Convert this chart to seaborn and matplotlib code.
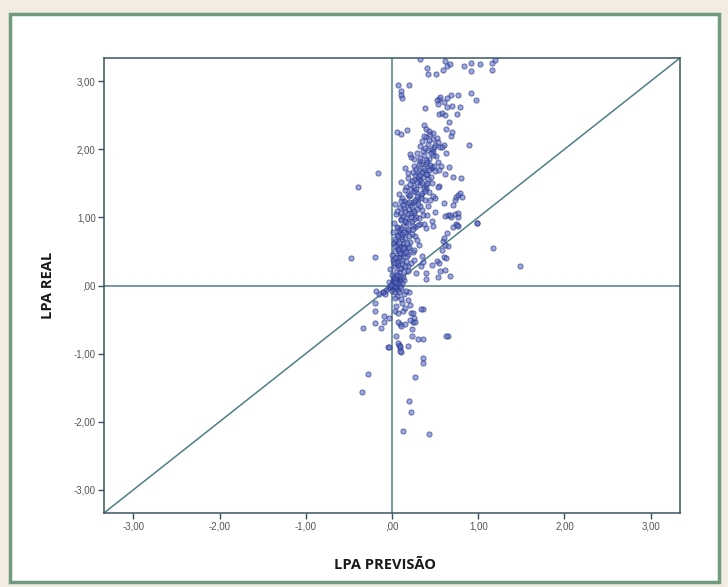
import numpy as np
import pandas as pd
import matplotlib.pyplot as plt
import matplotlib.patches as patches
from matplotlib.ticker import FuncFormatter
import seaborn as sns

# points, grouped by region, (LPA PREVISAO, LPA REAL)
origin_pts = [(-0.05, -0.04), (-0.02, -0.02), (0.0, 0.0), (0.01, 0.03), (0.02, -0.05), (0.03, 0.06),
              (0.04, 0.02), (0.05, -0.03), (0.06, 0.08), (0.08, 0.05), (0.10, 0.09), (0.12, 0.04),
              (-0.03, 0.05), (0.0, -0.08), (0.02, 0.10), (0.05, 0.12), (0.07, -0.06), (0.09, 0.0),
              (0.03, -0.10), (0.01, 0.07), (-0.07, -0.07), (-0.10, -0.09), (0.0, 0.02), (0.02, 0.01),
              (0.04, -0.01), (-0.01, 0.01), (0.06, 0.03), (0.14, 0.08), (0.11, -0.04), (0.08, -0.10)]

band_a = [(0.00, 0.15), (0.02, 0.12), (0.03, 0.28), (0.05, 0.20), (0.06, 0.35), (0.08, 0.18),
          (0.10, 0.25), (0.12, 0.32), (0.01, 0.38), (0.04, 0.10), (0.07, 0.30), (0.09, 0.14),
          (0.11, 0.40), (0.14, 0.22), (0.16, 0.36), (0.19, 0.28), (0.22, 0.33), (0.03, 0.05),
          (0.06, 0.16), (0.13, 0.12), (0.18, 0.21), (0.25, 0.38), (0.28, 0.18), (-0.02, 0.24),
          (0.05, 0.42)]

band_b = [(0.00, 0.45), (0.02, 0.62), (0.04, 0.51), (0.06, 0.74), (0.08, 0.42), (0.10, 0.58),
          (0.12, 0.69), (0.14, 0.47), (0.16, 0.78), (0.18, 0.55), (0.21, 0.64), (0.24, 0.49),
          (0.27, 0.72), (0.31, 0.60), (0.35, 0.44), (0.01, 0.79), (0.03, 0.41), (0.05, 0.66),
          (0.07, 0.53), (0.09, 0.77), (0.11, 0.48), (0.13, 0.61), (0.15, 0.70), (0.17, 0.43),
          (0.20, 0.57), (0.23, 0.75), (0.26, 0.52), (0.29, 0.67), (0.06, 0.59), (0.10, 0.71),
          (0.14, 0.56), (0.19, 0.46), (0.03, 0.68), (0.08, 0.50), (0.12, 0.76)]

band_c = [(0.02, 0.92), (0.05, 1.05), (0.07, 0.84), (0.09, 1.15), (0.11, 0.97), (0.13, 0.88),
          (0.15, 1.10), (0.17, 1.01), (0.19, 0.82), (0.21, 1.18), (0.23, 0.94), (0.25, 1.07),
          (0.27, 0.86), (0.29, 1.12), (0.31, 0.99), (0.33, 0.90), (0.36, 1.03), (0.39, 0.85),
          (0.42, 1.16), (0.46, 0.95), (0.50, 1.08), (0.04, 1.19), (0.08, 0.81), (0.12, 1.02),
          (0.16, 0.93), (0.20, 1.13), (0.24, 0.87), (0.28, 1.00), (0.32, 1.17), (0.37, 0.91),
          (0.06, 1.09), (0.10, 0.96), (0.14, 1.14), (0.18, 0.83), (0.22, 1.06), (0.26, 0.98),
          (0.30, 0.89), (0.35, 1.11), (0.41, 1.04), (0.47, 0.87)]

band_d = [(0.08, 1.35), (0.11, 1.52), (0.14, 1.24), (0.16, 1.45), (0.18, 1.58), (0.20, 1.31),
          (0.22, 1.41), (0.24, 1.22), (0.26, 1.55), (0.28, 1.37), (0.30, 1.27), (0.32, 1.48),
          (0.34, 1.33), (0.36, 1.59), (0.38, 1.25), (0.40, 1.43), (0.43, 1.38), (0.46, 1.50),
          (0.50, 1.29), (0.55, 1.46), (0.60, 1.21), (0.12, 1.28), (0.15, 1.40), (0.19, 1.34),
          (0.23, 1.53), (0.27, 1.23), (0.31, 1.57), (0.35, 1.36), (0.39, 1.47), (0.44, 1.26),
          (0.17, 1.21), (0.21, 1.49), (0.25, 1.39), (0.29, 1.30), (0.33, 1.54), (0.37, 1.42),
          (0.42, 1.56), (0.48, 1.32), (0.53, 1.44), (0.10, 1.24)]

band_e = [(0.15, 1.72), (0.19, 1.65), (0.22, 1.88), (0.25, 1.76), (0.27, 1.62), (0.29, 1.95),
          (0.31, 1.70), (0.33, 1.83), (0.35, 1.67), (0.37, 1.91), (0.39, 1.78), (0.41, 1.64),
          (0.43, 1.86), (0.45, 1.73), (0.47, 1.97), (0.50, 1.68), (0.53, 1.81), (0.57, 1.75),
          (0.62, 1.63), (0.21, 1.93), (0.26, 1.85), (0.30, 1.61), (0.34, 1.79), (0.38, 1.69),
          (0.42, 1.99), (0.46, 1.74), (0.51, 1.90), (0.24, 1.66), (0.28, 1.71), (0.32, 1.87),
          (0.36, 1.98), (0.40, 1.84), (0.44, 1.77), (0.48, 1.92), (0.55, 1.69)]

band_f = [(0.32, 2.05), (0.35, 2.12), (0.38, 2.02), (0.40, 2.18), (0.42, 2.08), (0.44, 2.22),
          (0.46, 2.01), (0.48, 2.15), (0.50, 2.06), (0.53, 2.10), (0.56, 2.03), (0.60, 2.07),
          (0.37, 2.20), (0.43, 2.13), (0.47, 2.24), (0.52, 2.17)]

core_extra = [(0.05, 0.33), (0.09, 0.47), (0.13, 0.55), (0.17, 0.63), (0.07, 0.72), (0.11, 0.84),
              (0.15, 0.95), (0.19, 1.05), (0.23, 1.15), (0.27, 1.26), (0.21, 1.33), (0.25, 1.44),
              (0.29, 1.52), (0.33, 1.62), (0.37, 1.73), (0.41, 1.82), (0.45, 1.94), (0.49, 2.03),
              (0.08, 0.62), (0.12, 0.38), (0.16, 0.49), (0.20, 0.73), (0.24, 0.83), (0.14, 0.79),
              (0.18, 0.92), (0.22, 1.00), (0.26, 1.10), (0.30, 1.20), (0.34, 1.29), (0.38, 1.39),
              (0.41, 1.51), (0.45, 1.60), (0.49, 1.76), (0.10, 1.07), (0.06, 0.86), (0.04, 0.58),
              (0.02, 0.33), (0.09, 0.26), (0.15, 0.28), (0.13, 1.18), (0.20, 1.22), (0.28, 1.41),
              (0.35, 1.50), (0.39, 1.64), (0.31, 1.78), (0.43, 1.70)]

upper_pts = [(0.33, 3.32), (0.62, 3.30), (0.64, 3.22), (0.67, 3.25), (0.41, 3.19), (0.42, 3.11),
             (0.51, 3.11), (0.59, 3.17), (0.83, 3.22), (0.92, 3.27), (0.92, 3.15), (1.02, 3.25),
             (1.16, 3.27), (1.16, 3.17), (1.19, 3.31), (0.07, 2.95), (0.20, 2.95), (0.11, 2.85),
             (0.11, 2.80), (0.12, 2.75), (0.53, 2.67), (0.54, 2.74), (0.56, 2.77), (0.69, 2.80),
             (0.77, 2.80), (0.64, 2.76), (0.92, 2.82), (0.97, 2.73), (0.38, 2.60), (0.64, 2.62),
             (0.70, 2.63), (0.79, 2.62), (0.55, 2.52), (0.58, 2.53), (0.62, 2.51), (0.75, 2.52),
             (0.66, 2.40), (0.06, 2.26), (0.11, 2.23), (0.17, 2.29), (0.37, 2.35), (0.40, 2.30),
             (0.43, 2.27), (0.63, 2.30), (0.68, 2.20), (0.70, 2.25), (0.89, 2.07), (0.52, 2.72),
             (0.60, 2.70)]

right_pts = [(0.80, 1.58), (0.71, 1.60), (0.73, 1.25), (0.74, 1.30), (0.76, 1.33), (0.98, 0.92),
             (0.63, 1.95), (0.66, 1.74), (0.58, 2.03), (0.71, 1.18), (0.73, 1.05), (0.77, 1.00),
             (0.71, 0.86), (0.74, 0.90), (0.77, 0.88), (0.61, 1.02), (0.65, 1.04), (0.69, 1.01),
             (0.59, 0.65), (0.64, 0.77), (0.58, 0.52), (0.65, 0.58), (0.60, 0.42), (0.61, 0.23),
             (0.56, 0.21), (0.67, 1.04), (0.75, 0.89), (0.77, 1.06), (0.67, 0.14), (0.99, 0.92),
             (1.17, 0.55), (1.48, 0.28), (0.79, 1.36), (0.81, 1.30), (0.52, 0.36), (0.54, 0.33),
             (0.39, 0.19), (0.46, 0.30), (0.62, 0.60), (0.53, 0.12), (0.39, 0.10), (0.34, 0.28),
             (0.36, 0.34), (0.63, 0.41), (0.60, 0.70)]

left_pts = [(-0.39, 1.45), (-0.16, 1.65), (-0.48, 0.41), (-0.20, 0.42), (-0.28, -1.30), (-0.35, -1.56),
            (-0.34, -0.62), (-0.20, -0.55), (-0.13, -0.63), (-0.09, -0.45), (-0.09, -0.53), (-0.05, -0.90),
            (-0.20, -0.25), (-0.20, -0.37), (-0.18, -0.08), (-0.08, -0.13), (-0.04, -0.47), (-0.10, -0.10),
            (-0.15, -0.12)]

lower_pts = [(0.36, -1.07), (0.36, -1.14), (0.27, -1.35), (0.20, -1.70), (0.22, -1.86), (0.13, -2.14),
             (0.43, -2.18), (0.65, -0.74), (0.36, -0.34), (0.30, -0.78), (0.36, -0.78), (0.23, -0.74),
             (0.19, -0.89), (0.08, -0.87), (0.09, -0.92), (0.10, -0.97), (0.05, -0.74), (0.09, -0.57),
             (0.15, -0.57), (0.22, -0.41), (0.25, -0.47), (0.24, -0.54), (0.23, -0.64), (0.20, -0.10),
             (0.04, -0.37), (0.07, -0.40), (0.13, -0.37), (0.15, -0.33), (0.21, -0.28), (0.24, -0.40),
             (0.21, -0.50), (0.27, -0.54), (0.34, -0.35), (0.11, -0.59), (0.07, -0.54), (0.07, -0.84),
             (0.09, -0.89), (0.63, -0.74), (-0.04, -0.91), (0.09, -0.96), (0.06, -0.15), (0.10, -0.20),
             (0.14, -0.12), (0.18, -0.22), (0.12, -0.26), (0.16, -0.08), (0.03, -0.18), (0.05, -0.30)]

x_ticks = [-3, -2, -1, 0, 1, 2, 3]
y_ticks = [-3, -2, -1, 0, 1, 2, 3]
lim = 3.34

all_pts = (origin_pts + band_a + band_b + band_c + band_d + band_e + band_f + core_extra
           + upper_pts + right_pts + left_pts + lower_pts)
df = pd.DataFrame(all_pts, columns=['LPA PREVISÃO', 'LPA REAL'])

sns.set_style('white')
plt.rcParams['font.family'] = ['Liberation Sans', 'DejaVu Sans']

fig = plt.figure(figsize=(7.28, 5.87), dpi=100, facecolor='#f3ece1')
# green framed white panel behind the axes
fig.patches.append(patches.Rectangle((10 / 728, 5 / 587), 709 / 728, 568 / 587,
                                     transform=fig.transFigure, facecolor='white',
                                     edgecolor='#6f9a80', linewidth=2.5, zorder=-5))

ax = fig.add_axes([104 / 728, 74 / 587, 576 / 728, 455 / 587])
ax.set_zorder(2)
ax.set_facecolor('white')

ax.plot([-lim, lim], [-lim, lim], color='#4e7f86', lw=1.1, zorder=1)
ax.axhline(0, color='#4e7f86', lw=1.1, zorder=1)
ax.axvline(0, color='#4e7f86', lw=1.1, zorder=1)

sns.scatterplot(data=df, x='LPA PREVISÃO', y='LPA REAL', ax=ax, s=14,
                color='#5a6ec0', edgecolor='#222c86', linewidth=0.7, alpha=0.6, zorder=3)

ax.set_xlim(-lim, lim)
ax.set_ylim(-lim, lim)
ax.set_xticks(x_ticks)
ax.set_yticks(y_ticks)


def fmt(v, pos):
    s = f'{v:.2f}'.replace('.', ',')
    if s in ('0,00', '-0,00'):
        return ',00'
    return s


ax.xaxis.set_major_formatter(FuncFormatter(fmt))
ax.yaxis.set_major_formatter(FuncFormatter(fmt))
ax.tick_params(axis='both', which='major', direction='out', length=4, width=1,
               color='#3a4f58', labelsize=7, labelcolor='#555555', pad=2,
               bottom=True, left=True)
for sp in ax.spines.values():
    sp.set_color('#3a5560')
    sp.set_linewidth(1.1)

ax.set_xlabel('')
ax.set_ylabel('')
fig.text(385 / 728, 1 - 565 / 587, 'LPA PREVISÃO', ha='center', va='center', color='#1a1a1a',
         fontsize=10.5, fontweight='bold', family=['Open Sans', 'DejaVu Sans'])
fig.text(48 / 728, 1 - 285 / 587, 'LPA REAL', ha='center', va='center', rotation=90, color='#1a1a1a',
         fontsize=10.5, fontweight='bold', family=['Open Sans', 'DejaVu Sans'])

fig.savefig('out.png', dpi=100, facecolor=fig.get_facecolor())
